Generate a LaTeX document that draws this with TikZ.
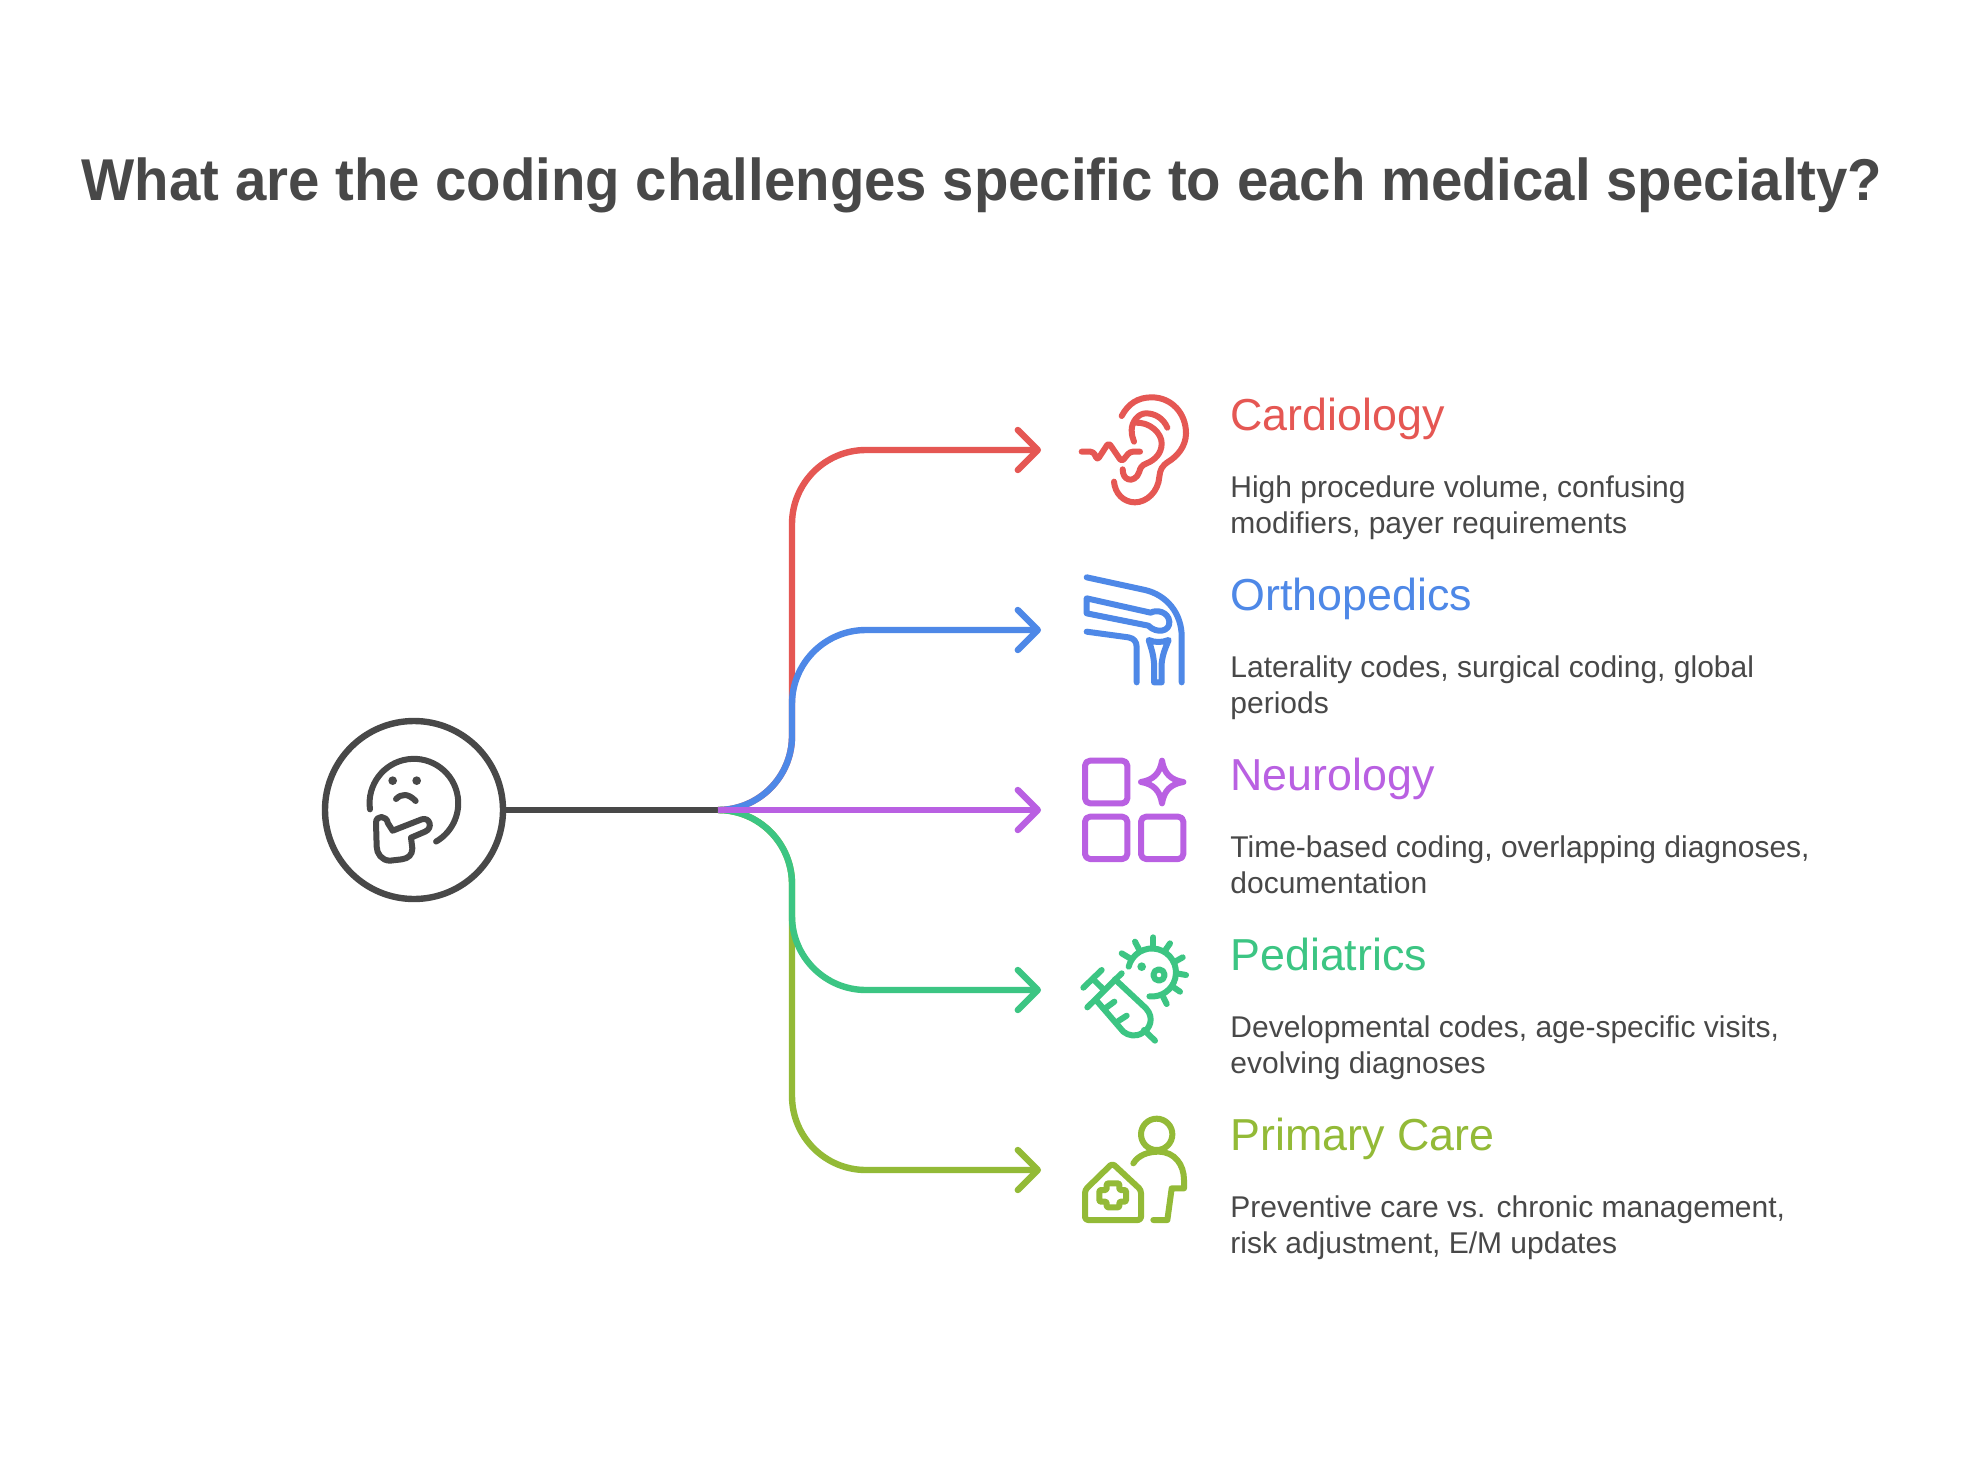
\documentclass[tikz,border=0pt]{standalone}
\usepackage{fontspec}
\setmainfont{Liberation Sans}
\newfontfamily\titlefont[FakeStretch=0.955]{Liberation Sans}
\usetikzlibrary{arrows.meta,calc}
\definecolor{ink}{HTML}{484848}
\definecolor{cred}{HTML}{E55753}
\definecolor{cblue}{HTML}{4E88E7}
\definecolor{cpurple}{HTML}{B960E2}
\definecolor{cgreen}{HTML}{3CC583}
\definecolor{clime}{HTML}{93BA37}
\tikzset{
  conn/.style={line width=3.2pt,rounded corners=37pt,-{Straight Barb[length=10pt,width=20pt,round]}},
  iconline/.style={x=0.166667pt,y=-0.166667pt,line width=3pt,line cap=round,line join=round},
  heading/.style={anchor=base west,inner sep=0pt,font=\fontsize{22.4}{22.4}\selectfont},
  body/.style={anchor=base west,inner sep=0pt,text=ink,font=\fontsize{15}{18}\selectfont,align=left},
}
\begin{document}
\begin{tikzpicture}[x=0.5pt,y=-0.5pt]
\useasboundingbox (0,0) rectangle (1962,1476);
\fill[white] (0,0) rectangle (1962,1476);
\node[anchor=base,inner sep=0pt,text=ink,font=\fontsize{29.5}{29.5}\titlefont\bfseries] (title) at (982,201) {What are the coding challenges specific to each medical specialty?};

\node[circle,draw=ink,line width=3.2pt,minimum size=89pt,inner sep=0pt] (root) at (414,810) {};
\coordinate (hub) at (718,810);
\coordinate (trunk) at (792,0);
\coordinate (t1) at (1041,450);
\coordinate (t2) at (1041,630);
\coordinate (t3) at (1041,810);
\coordinate (t4) at (1041,990);
\coordinate (t5) at (1041,1170);
\draw[ink,line width=3.2pt] (root) -- (hub);
\draw[conn,cred] (hub) -- (trunk |- hub) -- (trunk |- t1) -- (t1);
\draw[conn,cblue] (hub) -- (trunk |- hub) -- (trunk |- t2) -- (t2);
\draw[conn,clime] (hub) -- (trunk |- hub) -- (trunk |- t5) -- (t5);
\draw[conn,cgreen] (hub) -- (trunk |- hub) -- (trunk |- t4) -- (t4);
\draw[conn,cpurple] (hub) -- (t3);

% labels
\node[heading,text=cred] (h1) at (1230,430) {Cardiology};
\node[body] (b1a) at (1230,497.5) {High procedure volume, confusing};
\node[body] (b1b) at (1230,533.5) {modifiers, payer requirements};
\node[heading,text=cblue] (h2) at (1230,610) {Orthopedics};
\node[body] (b2a) at (1230,677.5) {Laterality codes, surgical coding, global};
\node[body] (b2b) at (1230,713.5) {periods};
\node[heading,text=cpurple] (h3) at (1230,790) {Neurology};
\node[body] (b3a) at (1230,857.5) {Time-based coding, overlapping diagnoses,};
\node[body] (b3b) at (1230,893.5) {documentation};
\node[heading,text=cgreen] (h4) at (1230,970) {Pediatrics};
\node[body] (b4a) at (1230,1037.5) {Developmental codes, age-specific visits,};
\node[body] (b4b) at (1230,1073.5) {evolving diagnoses};
\node[heading,text=clime] (h5) at (1230,1150) {Primary Care};
\node[body] (b5a) at (1230,1217.5) {Preventive care vs. chronic management,};
\node[body] (b5b) at (1230,1253.5) {risk adjustment, E/M updates};

% thinking face
\begin{scope}[shift={(310,700)},iconline,draw=ink,fill=ink]
\draw (180,328) arc (-188:60:133);
\fill (248,242) circle (13);
\fill (320,242) circle (13);
\draw (258,297) .. controls (275,280) and (295,280) .. (317,303);
\draw (198,368) .. controls (198,345) and (230,345) .. (234,370) -- (248,392) -- (335,358) .. controls (360,350) and (370,385) .. (345,395) -- (303,413) -- (307,445) .. controls (307,465) and (295,475) .. (275,478) -- (240,482) .. controls (215,482) and (200,460) .. (200,440) -- cycle;
\end{scope}

% ear
\begin{scope}[shift={(1060,380)},iconline,draw=cred]
\draw (185,108) .. controls (205,70) and (235,52) .. (275,52) .. controls (335,52) and (378,100) .. (378,160) .. controls (378,200) and (350,230) .. (325,245) .. controls (305,258) and (300,270) .. (298,290) .. controls (295,335) and (260,367) .. (225,367) .. controls (190,367) and (165,340) .. (162,305);
\draw (322,143) .. controls (310,115) and (285,100) .. (258,100) .. controls (235,100) and (215,125) .. (215,150) .. controls (215,165) and (218,175) .. (222,185);
\draw (225,128) .. controls (270,125) and (305,160) .. (305,190) .. controls (305,220) and (285,240) .. (260,250) .. controls (245,255) and (240,265) .. (238,275) .. controls (232,295) and (215,302) .. (205,298) .. controls (195,295) and (188,285) .. (188,268);
\draw[rounded corners=1.5pt] (65,215) -- (100,215) -- (112,240) -- (146,188) -- (185,245) -- (210,215) -- (240,215);
\end{scope}

% knee
\begin{scope}[shift={(1060,560)},iconline,draw=cblue]
\draw (80,52) -- (255,90) .. controls (320,105) and (365,160) .. (365,230) -- (365,367);
\draw (80,115) -- (272,158) .. controls (290,148) and (325,155) .. (328,185) .. controls (330,215) and (290,222) .. (265,197) -- (80,160) -- cycle;
\draw (80,215) -- (205,232) .. controls (222,235) and (230,245) .. (230,262) -- (230,367);
\draw (266,240) .. controls (285,248) and (305,248) .. (326,240) .. controls (318,260) and (308,280) .. (305,310) -- (305,367) -- (282,367) -- (282,310) .. controls (280,280) and (272,260) .. (266,240) -- cycle;
\end{scope}

% grid and star
\begin{scope}[shift={(1060,740)},iconline,draw=cpurple]
\draw[rounded corners=2.5pt] (75,62) rectangle (202,190);
\draw[rounded corners=2.5pt] (75,230) rectangle (202,357);
\draw[rounded corners=2.5pt] (243,230) rectangle (370,357);
\draw (306,62) .. controls (312,100) and (332,120) .. (370,126) .. controls (332,132) and (312,152) .. (306,190) .. controls (300,152) and (280,132) .. (243,126) .. controls (280,120) and (300,100) .. (306,62) -- cycle;
\end{scope}

% syringe and virus
\begin{scope}[shift={(1060,920)},iconline,draw=cgreen,fill=cgreen]
\draw (206,140) arc (-166:96:72);
\foreach \a/\b/\c/\d in {280/52/280/82, 225/65/238/90, 185/100/210/115, 330/70/315/92, 368/112/345/125, 378/165/350/160, 360/215/338/200, 320/252/308/228}
  \draw (\a,\b) -- (\c,\d);
\fill (245,140) circle (13);
\draw (297,165) circle (17);
\draw (70,203) -- (125,150);
\draw (100,178) -- (130,208);
\draw (82,262) -- (185,160);
\draw (165,178) -- (258,265) .. controls (285,295) and (268,328) .. (248,338) .. controls (228,352) and (205,347) .. (190,335) -- (108,240);
\draw (133,267) -- (163,245);
\draw (175,303) -- (200,287);
\draw (252,330) -- (285,362);
\end{scope}

% person and clinic
\begin{scope}[shift={(1060,1100)},iconline,draw=clime]
\draw (290,103) circle (47);
\draw (220,190) .. controls (235,165) and (265,155) .. (295,155) .. controls (345,155) and (372,195) .. (372,240) -- (372,265) -- (335,265) -- (322,360) -- (280,360);
\draw[rounded corners=1.5pt] (75,270) -- (157,190) -- (243,270) -- (243,360) -- (75,360) -- cycle;
\draw[rounded corners=0.6pt] (140,250) -- (178,250) -- (178,270) -- (198,270) -- (198,305) -- (178,305) -- (178,322) -- (140,322) -- (140,305) -- (118,305) -- (118,270) -- (140,270) -- cycle;
\end{scope}
\end{tikzpicture}
\end{document}
